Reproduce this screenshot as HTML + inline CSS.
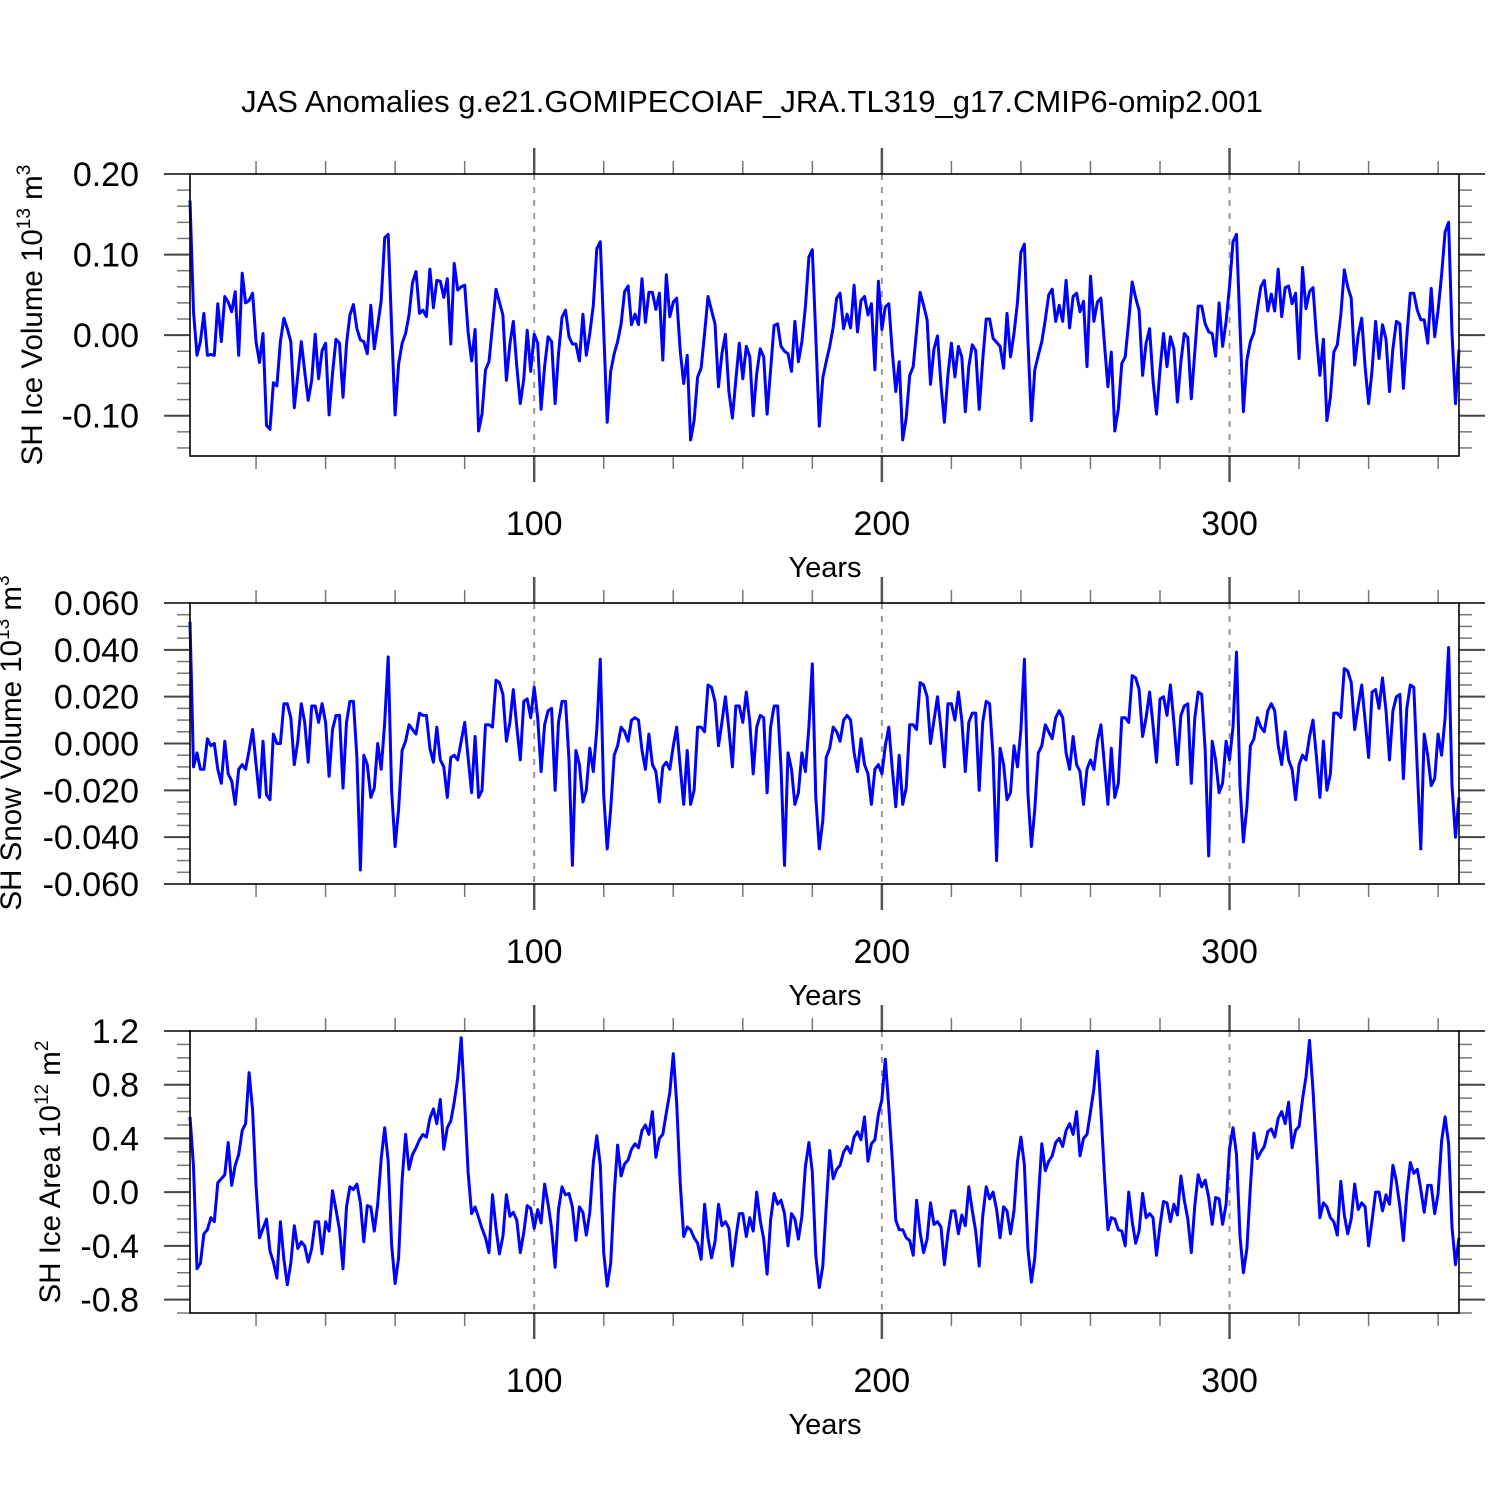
<!DOCTYPE html>
<html><head><meta charset="utf-8"><style>
html,body{margin:0;padding:0;background:#fff;}
svg{display:block;font-family:"Liberation Sans",Arial,sans-serif;}
</style></head><body>
<svg id="chart" width="1500" height="1500" viewBox="0 0 1500 1500" xmlns="http://www.w3.org/2000/svg">
<rect width="1500" height="1500" fill="#fff"/>
<text x="752" y="112" font-size="31" text-anchor="middle" fill="#000">JAS Anomalies g.e21.GOMIPECOIAF_JRA.TL319_g17.CMIP6-omip2.001</text>
<text transform="translate(42,315) rotate(-90)" font-size="29.5" text-anchor="middle">SH Ice Volume 10<tspan font-size="19" dy="-12">13</tspan><tspan dy="12"> m</tspan><tspan font-size="19" dy="-12">3</tspan></text>
<text transform="translate(21,743) rotate(-90)" font-size="29.5" text-anchor="middle">SH Snow Volume 10<tspan font-size="19" dy="-12">13</tspan><tspan dy="12"> m</tspan><tspan font-size="19" dy="-12">3</tspan></text>
<text transform="translate(60,1172) rotate(-90)" font-size="29.5" text-anchor="middle">SH Ice Area 10<tspan font-size="19" dy="-12">12</tspan><tspan dy="12"> m</tspan><tspan font-size="19" dy="-12">2</tspan></text>
<g id="plots"></g>
</svg>
<script>
const iceVolume = [0.167,0.029,-0.025,-0.008,0.027,-0.025,-0.024,-0.025,0.039,-0.008,0.048,0.041,0.029,0.054,-0.025,0.077,0.040,0.043,0.052,-0.009,-0.034,0.002,-0.112,-0.117,-0.059,-0.063,-0.008,0.021,0.008,-0.008,-0.090,-0.050,-0.008,-0.045,-0.081,-0.056,0.001,-0.054,-0.019,-0.010,-0.099,-0.048,-0.005,-0.010,-0.077,-0.011,0.025,0.038,0.008,-0.006,-0.008,-0.023,0.037,-0.017,0.012,0.043,0.121,0.125,0.010,-0.099,-0.036,-0.010,0.002,0.025,0.065,0.079,0.027,0.031,0.023,0.082,0.034,0.068,0.067,0.047,0.070,-0.011,0.089,0.056,0.060,0.062,0.004,-0.032,0.007,-0.119,-0.098,-0.043,-0.033,0.012,0.057,0.041,0.025,-0.056,-0.011,0.017,-0.039,-0.085,-0.054,0.006,-0.045,0.001,-0.010,-0.092,-0.039,-0.002,-0.008,-0.085,-0.023,0.022,0.031,-0.002,-0.011,-0.011,-0.032,0.026,-0.025,0.002,0.037,0.107,0.116,0.006,-0.108,-0.045,-0.023,-0.008,0.014,0.054,0.061,0.013,0.026,0.013,0.070,0.016,0.053,0.053,0.032,0.052,-0.031,0.075,0.023,0.041,0.046,-0.019,-0.060,-0.025,-0.130,-0.106,-0.052,-0.041,0.002,0.048,0.031,0.014,-0.064,-0.023,0.001,-0.070,-0.103,-0.056,-0.010,-0.054,-0.014,-0.027,-0.100,-0.048,-0.017,-0.027,-0.098,-0.043,0.012,0.014,-0.014,-0.020,-0.023,-0.045,0.017,-0.033,-0.008,0.035,0.097,0.106,-0.002,-0.113,-0.053,-0.033,-0.014,0.010,0.046,0.052,0.008,0.026,0.009,0.062,0.004,0.043,0.048,0.025,0.039,-0.043,0.067,0.007,0.035,0.039,-0.021,-0.070,-0.033,-0.130,-0.103,-0.050,-0.039,0.006,0.053,0.037,0.019,-0.061,-0.017,-0.001,-0.062,-0.108,-0.050,-0.010,-0.052,-0.014,-0.027,-0.095,-0.039,-0.012,-0.019,-0.092,-0.031,0.020,0.020,-0.004,-0.009,-0.014,-0.041,0.027,-0.027,0.002,0.041,0.103,0.113,-0.006,-0.106,-0.043,-0.025,-0.008,0.019,0.050,0.057,0.017,0.037,0.017,0.068,0.009,0.048,0.052,0.029,0.042,-0.039,0.073,0.017,0.041,0.046,-0.010,-0.064,-0.021,-0.119,-0.092,-0.035,-0.027,0.017,0.066,0.046,0.031,-0.050,-0.010,0.008,-0.056,-0.098,-0.043,0.002,-0.039,-0.002,-0.017,-0.083,-0.033,0.002,-0.003,-0.079,-0.021,0.036,0.036,0.014,0.004,0.002,-0.026,0.040,-0.014,0.017,0.060,0.116,0.125,0.010,-0.095,-0.031,-0.008,0.003,0.033,0.060,0.068,0.030,0.051,0.030,0.082,0.023,0.059,0.061,0.039,0.052,-0.029,0.084,0.033,0.054,0.059,-0.002,-0.050,-0.005,-0.106,-0.077,-0.021,-0.012,0.025,0.081,0.060,0.046,-0.037,0.000,0.021,-0.039,-0.085,-0.043,0.017,-0.029,0.013,-0.005,-0.070,-0.017,0.017,0.014,-0.066,-0.002,0.052,0.052,0.031,0.019,0.019,-0.010,0.058,-0.002,0.031,0.075,0.128,0.140,0.002,-0.085,-0.018];
const snowVolume = [0.052,-0.010,-0.004,-0.011,-0.011,0.002,-0.001,0.000,-0.011,-0.017,0.001,-0.013,-0.016,-0.026,-0.011,-0.009,-0.011,-0.003,0.006,-0.009,-0.023,0.001,-0.022,-0.024,0.004,0.000,0.000,0.017,0.017,0.011,-0.009,0.001,0.017,0.009,-0.008,0.016,0.016,0.009,0.017,0.009,-0.014,0.006,0.012,0.012,-0.019,0.009,0.018,0.018,-0.006,-0.054,-0.005,-0.009,-0.023,-0.019,0.000,-0.011,0.009,0.037,-0.020,-0.044,-0.028,-0.003,0.001,0.008,0.006,0.004,0.013,0.012,0.012,-0.002,-0.008,0.007,-0.007,-0.010,-0.023,-0.006,-0.005,-0.007,0.001,0.009,-0.006,-0.021,0.003,-0.023,-0.020,0.008,0.008,0.007,0.027,0.026,0.021,0.001,0.009,0.023,0.007,-0.007,0.018,0.019,0.011,0.024,0.011,-0.012,0.008,0.014,0.015,-0.020,0.009,0.018,0.018,-0.007,-0.052,-0.003,-0.009,-0.025,-0.020,-0.002,-0.012,0.006,0.036,-0.022,-0.045,-0.028,-0.005,-0.001,0.007,0.005,0.001,0.010,0.011,0.010,-0.003,-0.011,0.004,-0.009,-0.012,-0.025,-0.010,-0.008,-0.011,-0.001,0.007,-0.010,-0.026,-0.003,-0.026,-0.020,0.007,0.007,0.005,0.025,0.024,0.018,-0.001,0.009,0.020,0.006,-0.010,0.016,0.016,0.009,0.022,0.009,-0.013,0.007,0.012,0.011,-0.021,0.007,0.016,0.016,-0.010,-0.052,-0.004,-0.011,-0.026,-0.021,-0.004,-0.012,0.007,0.034,-0.023,-0.045,-0.033,-0.006,-0.002,0.007,0.005,0.001,0.010,0.012,0.010,-0.004,-0.012,0.002,-0.009,-0.013,-0.026,-0.011,-0.009,-0.013,-0.001,0.007,-0.011,-0.027,-0.005,-0.026,-0.019,0.008,0.008,0.006,0.026,0.025,0.020,0.000,0.010,0.020,0.006,-0.010,0.017,0.017,0.010,0.022,0.010,-0.012,0.009,0.013,0.013,-0.020,0.009,0.018,0.017,-0.006,-0.050,-0.002,-0.009,-0.024,-0.021,-0.001,-0.010,0.006,0.036,-0.021,-0.044,-0.028,-0.004,-0.001,0.008,0.005,0.002,0.011,0.014,0.011,-0.004,-0.011,0.003,-0.009,-0.012,-0.026,-0.011,-0.007,-0.011,0.001,0.008,-0.009,-0.026,-0.002,-0.023,-0.017,0.011,0.011,0.009,0.029,0.028,0.023,0.003,0.011,0.022,0.008,-0.008,0.019,0.020,0.012,0.025,0.009,-0.009,0.012,0.016,0.017,-0.017,0.011,0.022,0.021,-0.003,-0.048,0.001,-0.007,-0.021,-0.017,0.001,-0.007,0.007,0.039,-0.018,-0.042,-0.027,-0.001,0.002,0.011,0.007,0.005,0.014,0.017,0.014,-0.001,-0.009,0.005,-0.007,-0.011,-0.024,-0.009,-0.005,-0.007,0.003,0.010,-0.006,-0.023,0.001,-0.020,-0.013,0.013,0.013,0.011,0.032,0.031,0.026,0.006,0.016,0.025,0.010,-0.006,0.022,0.023,0.015,0.028,0.014,-0.007,0.014,0.020,0.021,-0.015,0.015,0.025,0.024,-0.011,-0.045,0.004,-0.005,-0.018,-0.015,0.004,-0.005,0.011,0.041,-0.018,-0.040,-0.023];
const iceArea = [0.56,0.19,-0.57,-0.53,-0.31,-0.28,-0.19,-0.22,0.07,0.10,0.13,0.37,0.05,0.20,0.28,0.46,0.51,0.89,0.61,0.04,-0.34,-0.27,-0.20,-0.44,-0.52,-0.64,-0.22,-0.50,-0.69,-0.53,-0.25,-0.42,-0.37,-0.40,-0.52,-0.42,-0.22,-0.22,-0.46,-0.22,-0.29,0.01,-0.13,-0.28,-0.57,-0.11,0.04,0.02,0.06,-0.08,-0.37,-0.10,-0.11,-0.29,-0.09,0.25,0.48,0.23,-0.39,-0.68,-0.49,0.09,0.43,0.17,0.28,0.33,0.39,0.43,0.41,0.55,0.62,0.51,0.69,0.32,0.48,0.53,0.67,0.85,1.15,0.66,0.15,-0.16,-0.11,-0.19,-0.27,-0.34,-0.45,-0.02,-0.27,-0.46,-0.33,-0.02,-0.18,-0.15,-0.21,-0.45,-0.30,-0.10,-0.12,-0.27,-0.13,-0.23,0.06,-0.09,-0.27,-0.56,-0.13,0.04,-0.02,-0.01,-0.11,-0.36,-0.11,-0.15,-0.32,-0.15,0.22,0.42,0.20,-0.45,-0.70,-0.53,-0.01,0.35,0.12,0.21,0.24,0.32,0.36,0.33,0.46,0.50,0.43,0.60,0.26,0.40,0.43,0.59,0.74,1.03,0.66,0.07,-0.33,-0.26,-0.28,-0.34,-0.38,-0.50,-0.09,-0.34,-0.49,-0.37,-0.09,-0.25,-0.22,-0.27,-0.55,-0.34,-0.16,-0.16,-0.33,-0.19,-0.29,0.00,-0.21,-0.35,-0.61,-0.21,-0.01,-0.09,-0.06,-0.16,-0.40,-0.16,-0.20,-0.35,-0.18,0.19,0.37,0.15,-0.47,-0.71,-0.55,-0.11,0.31,0.10,0.17,0.20,0.30,0.34,0.29,0.41,0.45,0.39,0.56,0.23,0.36,0.39,0.58,0.69,0.99,0.63,0.24,-0.21,-0.28,-0.28,-0.34,-0.36,-0.47,-0.06,-0.30,-0.45,-0.35,-0.08,-0.24,-0.22,-0.26,-0.54,-0.31,-0.14,-0.14,-0.31,-0.17,-0.25,0.04,-0.14,-0.29,-0.55,-0.18,0.04,-0.05,0.00,-0.13,-0.34,-0.11,-0.14,-0.31,-0.14,0.23,0.41,0.20,-0.42,-0.67,-0.49,-0.06,0.36,0.16,0.23,0.27,0.37,0.40,0.34,0.46,0.51,0.43,0.60,0.27,0.40,0.43,0.60,0.77,1.05,0.61,0.13,-0.28,-0.19,-0.20,-0.28,-0.29,-0.40,0.00,-0.22,-0.38,-0.29,-0.01,-0.19,-0.16,-0.19,-0.47,-0.25,-0.07,-0.08,-0.22,-0.09,-0.17,0.12,-0.06,-0.20,-0.45,-0.10,0.13,0.04,0.09,-0.04,-0.24,-0.04,-0.05,-0.24,-0.09,0.32,0.48,0.28,-0.33,-0.60,-0.42,0.04,0.44,0.25,0.30,0.34,0.45,0.47,0.41,0.55,0.60,0.51,0.67,0.33,0.46,0.49,0.69,0.86,1.13,0.76,0.29,-0.19,-0.08,-0.11,-0.19,-0.22,-0.32,0.08,-0.17,-0.31,-0.20,0.06,-0.13,-0.08,-0.11,-0.40,-0.21,0.00,0.00,-0.14,-0.02,-0.09,0.20,0.08,-0.11,-0.36,-0.01,0.22,0.14,0.17,0.02,-0.15,0.05,0.05,-0.16,-0.01,0.38,0.56,0.36,-0.26,-0.54,-0.34];
const xTickValues = [100,200,300];
const xTickLabels = ["100","200","300"];
const volTicks = [0.20,0.10,0.00,-0.10];
const volTickLabels = ["0.20","0.10","0.00","-0.10"];
const snowTicks = [0.06,0.04,0.02,0,-0.02,-0.04,-0.06];
const snowTickLabels = ["0.060","0.040","0.020","0.000","-0.020","-0.040","-0.060"];
const areaTicks = [1.2,0.8,0.4,0,-0.4,-0.8];
const areaTickLabels = ["1.2","0.8","0.4","0.0","-0.4","-0.8"];

const NS = "http://www.w3.org/2000/svg";
const L = 190, R = 1459, X0 = 1, X1 = 366;
const xs = v => L + (v - X0) / (X1 - X0) * (R - L);
const root = document.getElementById('plots');
function mk(tag, attrs, parent) {
  const e = document.createElementNS(NS, tag);
  for (const k in attrs) e.setAttribute(k, attrs[k]);
  parent.appendChild(e);
  return e;
}
const panels = [
  {name:'ice-volume', top:174, bot:456, ymin:-0.15, ymax:0.20, data:iceVolume, ticks:volTicks, labels:volTickLabels, minor:0.02, labelY:535, titleY:577},
  {name:'snow-volume', top:603, bot:884, ymin:-0.06, ymax:0.06, data:snowVolume, ticks:snowTicks, labels:snowTickLabels, minor:0.005, labelY:963, titleY:1005},
  {name:'ice-area', top:1031, bot:1313, ymin:-0.9, ymax:1.2, data:iceArea, ticks:areaTicks, labels:areaTickLabels, minor:0.1, labelY:1392, titleY:1434}
];
panels.forEach(p => {
  const ys = v => p.bot - (v - p.ymin) / (p.ymax - p.ymin) * (p.bot - p.top);
  const g = mk('g', {}, root);
  
  
  xTickValues.forEach(v => {
    const gl = mk('line', {x1:xs(v), x2:xs(v), y1:p.top, y2:p.bot, stroke:'#999', 'stroke-width':2, 'stroke-dasharray':'6,7'}, g);
    
    
  });
  for (let v = 20; v <= 360; v += 20) {
    const major = v % 100 === 0;
    const len = major ? 26 : 13;
    const col = major ? '#555' : '#777';
    const sw = major ? 2.5 : 1.5;
    const t1 = mk('line', {x1:xs(v), x2:xs(v), y1:p.bot, y2:p.bot + len, stroke:col, 'stroke-width':sw}, g);
    
    
    const t2 = mk('line', {x1:xs(v), x2:xs(v), y1:p.top, y2:p.top - len, stroke:col, 'stroke-width':sw}, g);
    
    
  }
  const nMin = Math.ceil(p.ymin / p.minor - 1e-6), nMax = Math.floor(p.ymax / p.minor + 1e-6);
  for (let i = nMin; i <= nMax; i++) {
    const v = i * p.minor;
    const yy = ys(v);
    if (yy < p.top - 0.5 || yy > p.bot + 0.5) continue;
    const a = mk('line', {x1:L - 13, x2:L, y1:yy, y2:yy, stroke:'#777', 'stroke-width':1.5}, g);
    
    
    const b = mk('line', {x1:R, x2:R + 13, y1:yy, y2:yy, stroke:'#777', 'stroke-width':1.5}, g);
    
    
  }
  p.ticks.forEach((v, i) => {
    const yy = ys(v);
    const a = mk('line', {x1:L - 26, x2:L, y1:yy, y2:yy, stroke:'#444', 'stroke-width':2}, g);
    
    
    const b = mk('line', {x1:R, x2:R + 26, y1:yy, y2:yy, stroke:'#444', 'stroke-width':2}, g);
    
    
    const t = mk('text', {x:139, y:yy + 12, 'font-size':34, 'text-anchor':'end', fill:'#000'}, g);
    t.textContent = p.labels[i];
    
    
  });
  xTickValues.forEach((v, i) => {
    const t = mk('text', {x:xs(v), y:p.labelY, 'font-size':34, 'text-anchor':'middle', fill:'#000'}, g);
    t.textContent = xTickLabels[i];
    
    
  });
  const xt = mk('text', {x:825, y:p.titleY, 'font-size':29, 'text-anchor':'middle', fill:'#000'}, g);
  xt.textContent = 'Years';
  
  
  const pts = p.data.map((v, i) => xs(X0 + i).toFixed(1) + ',' + ys(v).toFixed(1)).join(' ');
  const line = mk('polyline', {points:pts, fill:'none', stroke:'#0000ff', 'stroke-width':3, 'stroke-linejoin':'round'}, g);
  
  
  const fr = mk('rect', {x:L, y:p.top, width:R - L, height:p.bot - p.top, fill:'none', stroke:'#000', 'stroke-width':1.6}, g);
  
  
});
</script>
</body></html>
